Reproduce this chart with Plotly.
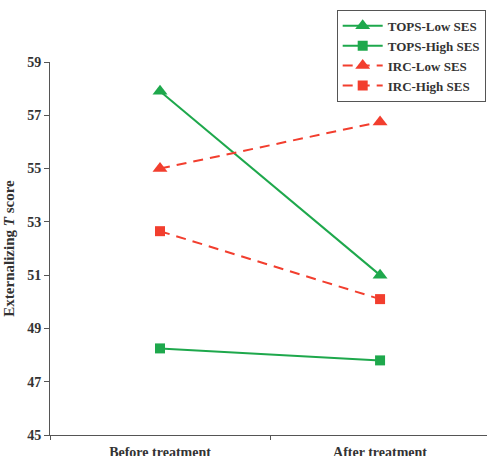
import plotly.graph_objects as go

categories = ["Before treatment", "After treatment"]
tops_low = [57.9, 51.0]
tops_high = [48.25, 47.8]
irc_low = [55.0, 56.75]
irc_high = [52.65, 50.1]
y_ticks = [45, 47, 49, 51, 53, 55, 57, 59]

GREEN = "#1ea84c"
RED = "#f23e2e"
FONT = "Liberation Serif"

fig = go.Figure()
series = [
    ("TOPS-Low SES", tops_low, GREEN, "solid", "triangle-up", 13),
    ("TOPS-High SES", tops_high, GREEN, "solid", "square", 10),
    ("IRC-Low SES", irc_low, RED, "10px,7px", "triangle-up", 13),
    ("IRC-High SES", irc_high, RED, "10px,7px", "square", 10),
]
for name, vals, col, dash, sym, sz in series:
    fig.add_trace(go.Scatter(
        x=categories, y=vals, name=name, mode="lines+markers",
        line=dict(color=col, width=2, dash=dash),
        marker=dict(symbol=sym, size=sz, color=col),
    ))

fig.update_layout(
    width=487, height=456,
    margin=dict(l=50, r=0, t=62, b=21, autoexpand=False),
    plot_bgcolor="white", paper_bgcolor="white",
    font=dict(family=FONT, size=13, color="#333333"),
    legend=dict(
        x=0.997, y=1.14, xanchor="right", yanchor="top",
        bordercolor="#555555", borderwidth=1,
        font=dict(family=FONT, size=13, color="#333333", weight="bold"),
        tracegroupgap=0, itemwidth=40,
    ),
    xaxis=dict(
        type="category", range=[-0.5, 1.486], automargin=False,
        tickson="boundaries", ticks="outside", ticklen=4,
        tickcolor="#555555", ticklabelstandoff=4,
        showline=True, linecolor="#555555", linewidth=1,
        showgrid=False, zeroline=False,
        tickfont=dict(family=FONT, size=14, color="#333333", weight="bold"),
    ),
    yaxis=dict(
        range=[45, 59], tickvals=y_ticks, ticks="outside", ticklen=5,
        tickcolor="#555555", automargin=False,
        showline=True, linecolor="#555555", linewidth=1,
        showgrid=False, zeroline=False,
        tickfont=dict(family=FONT, size=14, color="#333333", weight="bold"),
        title=dict(text="Externalizing <i>T</i> score", standoff=8,
                   font=dict(family=FONT, size=15, color="#333333", weight="bold")),
    ),
)

fig.write_html("out.html")
